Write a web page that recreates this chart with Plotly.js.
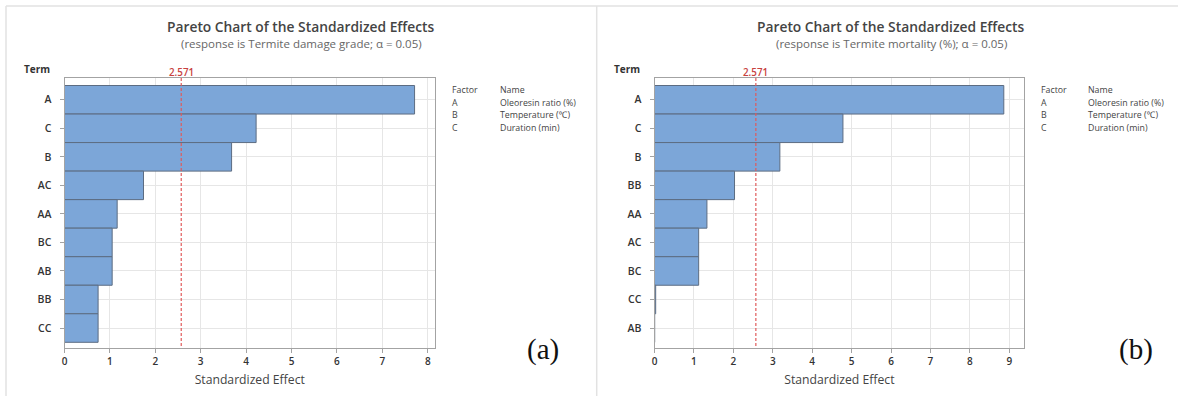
<!DOCTYPE html>
<html>
<head>
<meta charset="utf-8">
<script src="https://cdn.plot.ly/plotly-3.0.1.min.js"></script>
<style>html,body{margin:0;padding:0;background:#fff;}#chart{width:1178px;height:396px;}</style>
</head>
<body>
<div id="chart"></div>
<script>
// ---- data ----
const termsA = ['A','C','B','AC','AA','BC','AB','BB','CC'];
const effectsA = [7.71, 4.22, 3.68, 1.74, 1.16, 1.05, 1.05, 0.74, 0.74];
const termsB = ['A','C','B','BB','AA','AC','BC','CC','AB'];
const effectsB = [8.86, 4.78, 3.18, 2.03, 1.33, 1.12, 1.12, 0.03, 0.005];
const tCrit = 2.571;
const titleText = 'Pareto Chart of the Standardized Effects';
const subtitleA = '(response is Termite damage grade; α = 0.05)';
const subtitleB = '(response is Termite mortality (%); α = 0.05)';
const factorCodes = ['A','B','C'];
const factorNames = ['Oleoresin ratio (%)','Temperature (℃)','Duration (min)'];
const xTitle = 'Standardized Effect';
const panelLabels = ['(a)','(b)'];

// ---- layout helpers ----
const W = 1178, H = 396;
const px = x => x / W;
const py = y => 1 - y / H;
const FONT = '"Open Sans", "Noto Sans", sans-serif';
const barFill = '#7ca6d8', barLine = '#5c6c82';
const frame = '#a3a3a3', grid = '#e6e6e6';

function barTrace(terms, vals, xa, ya) {
  return {
    type: 'bar', orientation: 'h', x: vals, y: terms, xaxis: xa, yaxis: ya,
    width: 1,
    marker: {color: barFill, line: {color: barLine, width: 1}},
    hoverinfo: 'x+y', showlegend: false
  };
}

const data = [
  barTrace(termsA, effectsA, 'x', 'y'),
  barTrace(termsB, effectsB, 'x2', 'y2')
];

function xaxis(domain, range, anchor) {
  return {
    domain: domain, range: range, anchor: anchor,
    showgrid: true, gridcolor: grid, gridwidth: 1, zeroline: false,
    showline: true, mirror: true, linecolor: frame, linewidth: 1,
    ticks: 'outside', ticklen: 4, tickcolor: frame, dtick: 1,
    tickfont: {family: FONT, size: 10, color: '#333', weight: 600},
    title: {text: xTitle, font: {family: FONT, size: 12.2, color: '#444'}, standoff: 8},
    fixedrange: true
  };
}
function yaxis(domain, terms, anchor) {
  return {
    domain: domain, type: 'category', categoryarray: terms, categoryorder: 'array',
    range: [terms.length - 1 + 0.71, -0.77],
    showgrid: true, gridcolor: grid, gridwidth: 1, zeroline: false,
    showline: true, mirror: true, linecolor: frame, linewidth: 1,
    ticks: 'outside', ticklen: 4, tickcolor: frame, ticklabelstandoff: 6,
    tickfont: {family: FONT, size: 10.5, color: '#333', weight: 600},
    anchor: anchor, fixedrange: true
  };
}

const yDom = [py(348.3), py(77.8)];
const annotations = [];
const shapes = [];

function panel(xref, cx, termX, legX1, legX2, subtitle, lbl, lblX) {
  annotations.push({xref: 'paper', yref: 'paper', x: px(cx), y: py(27), text: titleText,
    showarrow: false, xanchor: 'center', yanchor: 'middle',
    font: {family: FONT, size: 13.8, color: '#444', weight: 600}});
  annotations.push({xref: 'paper', yref: 'paper', x: px(cx), y: py(43.5), text: subtitle,
    showarrow: false, xanchor: 'center', yanchor: 'middle',
    font: {family: FONT, size: 11.5, color: '#666'}});
  annotations.push({xref: 'paper', yref: 'paper', x: px(termX), y: py(68.5), text: 'Term',
    showarrow: false, xanchor: 'center', yanchor: 'middle',
    font: {family: FONT, size: 10, color: '#333', weight: 700}});
  annotations.push({xref: xref, yref: 'paper', x: tCrit, y: py(72.5), text: String(tCrit),
    showarrow: false, xanchor: 'center', yanchor: 'middle',
    font: {family: FONT, size: 9.8, color: '#c8423f', weight: 600}});
  const rows = [['Factor', 'Name']].concat(factorCodes.map((c, i) => [c, factorNames[i]]));
  rows.forEach((r, i) => {
    const yy = 90 + i * 12.6;
    annotations.push({xref: 'paper', yref: 'paper', x: px(legX1), y: py(yy), text: r[0],
      showarrow: false, xanchor: 'left', yanchor: 'middle',
      font: {family: FONT, size: 8.8, color: '#444'}});
    annotations.push({xref: 'paper', yref: 'paper', x: px(legX2), y: py(yy), text: r[1],
      showarrow: false, xanchor: 'left', yanchor: 'middle',
      font: {family: FONT, size: 8.8, color: '#444'}});
  });
  annotations.push({xref: 'paper', yref: 'paper', x: px(lblX), y: py(349), text: lbl,
    showarrow: false, xanchor: 'center', yanchor: 'middle',
    font: {family: '"Liberation Serif", "Times New Roman", serif', size: 29, color: '#111'}});
  shapes.push({type: 'line', xref: xref, yref: 'paper', x0: tCrit, x1: tCrit,
    y0: py(346), y1: py(76), line: {color: '#e05a5a', width: 1.2, dash: '3px,2px'}});
}

panel('x', 301.4, 37, 450.4, 497.5, subtitleA, panelLabels[0], 542.5);
panel('x2', 891.3, 626.9, 1038.9, 1085.8, subtitleB, panelLabels[1], 1135.6);

// panel frames
const fc = '#e2e2e2';
shapes.push({type: 'line', xref: 'paper', yref: 'paper', x0: px(6), x1: px(1178), y0: py(6), y1: py(6), line: {color: fc, width: 1.5}});
shapes.push({type: 'line', xref: 'paper', yref: 'paper', x0: px(6), x1: px(6), y0: py(6), y1: 0, line: {color: fc, width: 1.5}});
shapes.push({type: 'line', xref: 'paper', yref: 'paper', x0: px(596.7), x1: px(596.7), y0: py(6), y1: 0, line: {color: fc, width: 1.5}});

const layout = {
  width: W, height: H,
  margin: {l: 0, r: 0, t: 0, b: 0},
  paper_bgcolor: '#fff', plot_bgcolor: '#fff',
  bargap: 0,
  showlegend: false,
  xaxis: xaxis([px(64.5), px(435)], [0, 8.16], 'y'),
  yaxis: yaxis(yDom, termsA, 'x'),
  xaxis2: xaxis([px(654.5), px(1024.3)], [0, 9.38], 'y2'),
  yaxis2: yaxis(yDom, termsB, 'x2'),
  annotations: annotations,
  shapes: shapes
};

Plotly.newPlot('chart', data, layout, {displayModeBar: false, staticPlot: true});
</script>
</body>
</html>
